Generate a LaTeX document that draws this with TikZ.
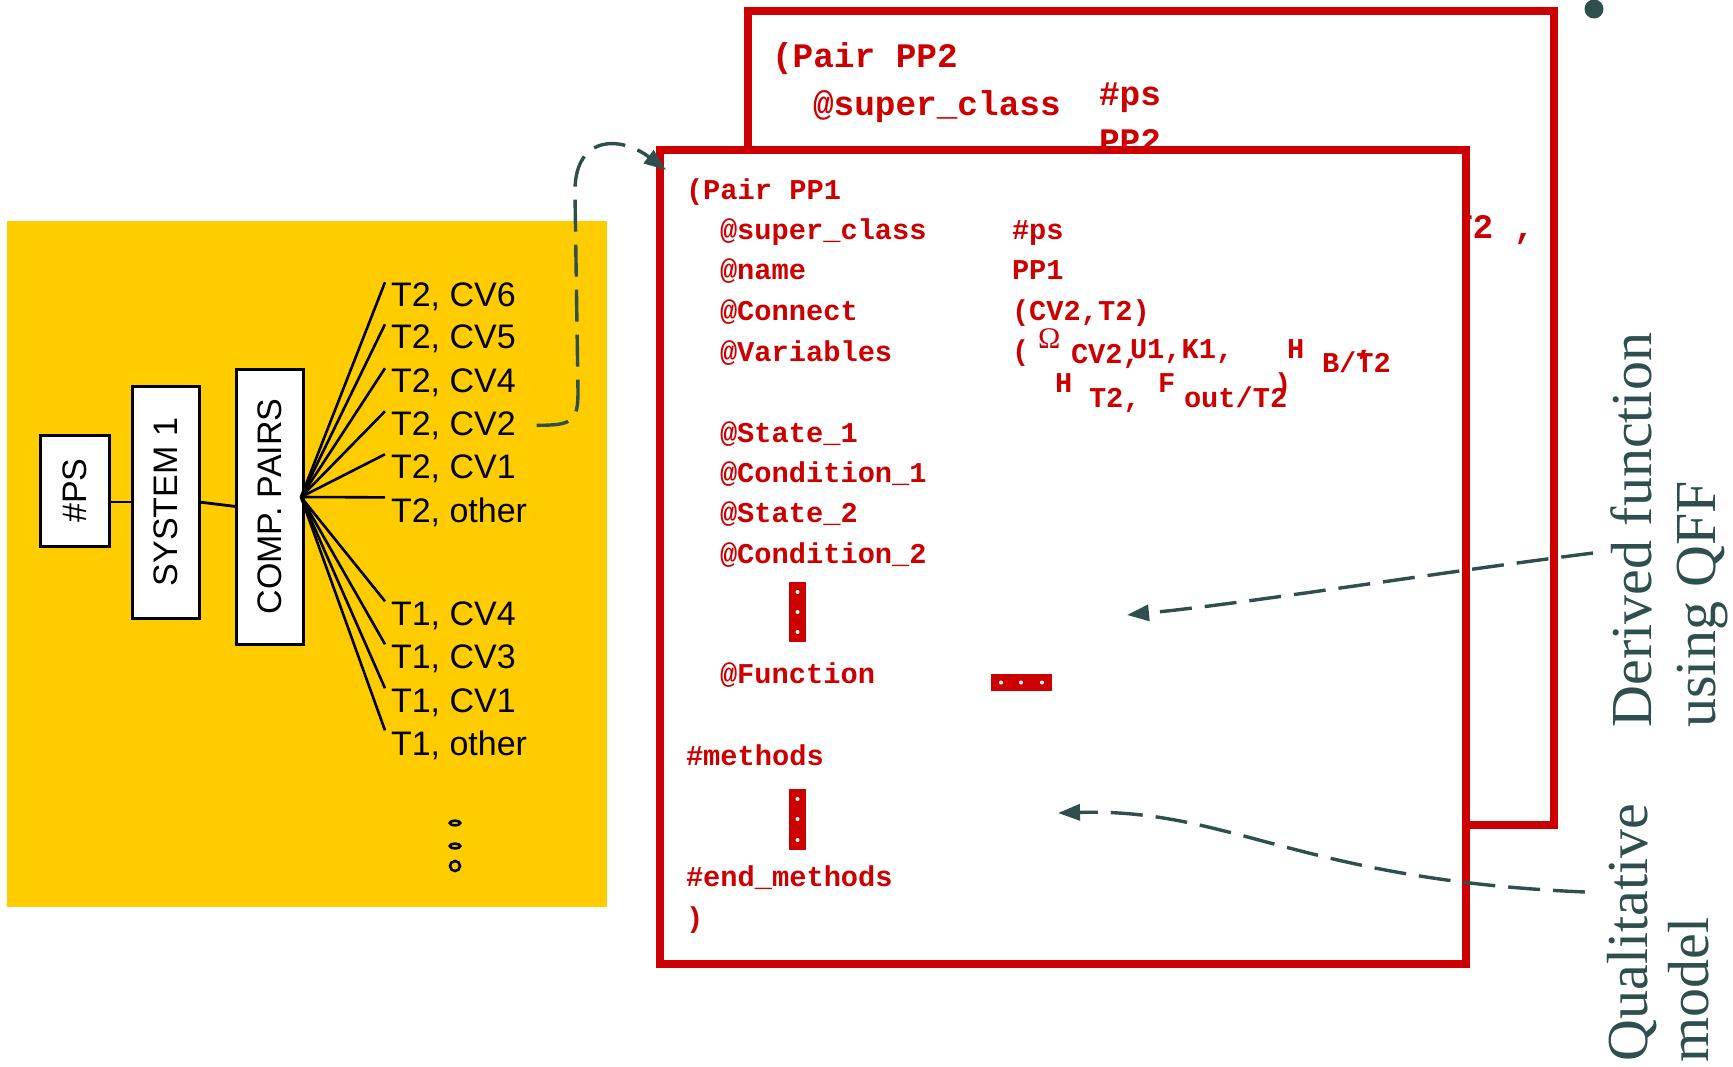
\documentclass[tikz,border=0pt]{standalone}
\usepackage{fontspec}
\setmainfont{Liberation Serif}
\newfontfamily\labelfont{Liberation Sans}
\newfontfamily\codefont{Liberation Mono}
\usetikzlibrary{arrows.meta}
\definecolor{codered}{HTML}{CC0000}
\definecolor{slate}{HTML}{2F4F4F}
\definecolor{gold}{HTML}{FFCC00}
\begin{document}
\begin{tikzpicture}[x=0.5pt,y=-0.5pt,
  panelbox/.style={fill=gold, draw=none, inner sep=0pt, outer sep=0pt, minimum width=300pt, minimum height=343pt},
  treebox/.style={draw=black, line width=1.5pt, fill=white, inner sep=0pt, outer sep=0pt, rotate=90,
    font=\labelfont\fontsize{17}{20}\selectfont},
  leaflabel/.style={anchor=base west, inner xsep=3pt, inner ysep=0pt, outer sep=0pt,
    font=\labelfont\fontsize{17}{20}\selectfont},
  fanline/.style={line width=1.3pt},
  linkline/.style={line width=1.4pt},
  codetxt/.style={anchor=base west, inner sep=0pt, outer sep=0pt, text=codered,
    font=\codefont\bfseries\fontsize{14.35}{16}\selectfont},
  bigcodetxt/.style={codetxt, font=\codefont\bfseries\fontsize{17.2}{20}\selectfont},
  sheetbox/.style={draw=codered, line width=4pt, fill=white, inner sep=0pt, outer sep=0pt,
    minimum width=403pt, minimum height=407pt},
  flowarrow/.style={draw=slate, line width=1.7pt, dash pattern=on 16pt off 6.5pt,
    -{Triangle[length=11pt,width=8pt]}},
  sidenote/.style={rotate=90, anchor=base west, inner sep=0pt, text=slate,
    font=\fontsize{29}{34}\selectfont},
  dotbar/.style={fill=codered, draw=none}
]
\useasboundingbox (0,0) rectangle (1733,1066);

% ---------- yellow panel with tree ----------
\node[panelbox] (panel) at (307,564) {};

\node[treebox, minimum width=55.5pt, minimum height=34.5pt] (ps) at (74.5,490.5) {\#PS};
\node[treebox, minimum width=116pt, minimum height=33.5pt] (sys) at (165.5,502) {SYSTEM 1};
\node[treebox, minimum width=137.5pt, minimum height=33.5pt] (comp) at (269.5,506.5) {COMP. PAIRS};

\draw[linkline] (ps.south |- sys.north) -- (sys.north);
\draw[linkline] (sys.south) -- (comp.north);

\node[leaflabel] (a1) at (385,306) {T2, CV6};
\node[leaflabel] (a2) at (385,348) {T2, CV5};
\node[leaflabel] (a3) at (385,392) {T2, CV4};
\node[leaflabel] (a4) at (385,435) {T2, CV2};
\node[leaflabel] (a5) at (385,478) {T2, CV1};
\node[leaflabel] (a6) at (385,522) {T2, other};
\node[leaflabel] (b1) at (385,625) {T1, CV4};
\node[leaflabel] (b2) at (385,668) {T1, CV3};
\node[leaflabel] (b3) at (385,712) {T1, CV1};
\node[leaflabel] (b4) at (385,755) {T1, other};

\coordinate (fan) at (301,497);
\foreach \n in {a1,a2,a3,a4,a5,a6,b1,b2,b3,b4}
  \draw[fanline] (fan) -- (\n.north west);

\draw[line width=1.3pt] (455,823) ellipse [x radius=2.6pt, y radius=1.2pt];
\draw[line width=1.3pt] (455,846) ellipse [x radius=2.6pt, y radius=1.2pt];
\draw[line width=1.3pt] (455,866) circle [radius=2.5pt];

% ---------- back sheet PP2 ----------
\node[sheetbox] (pp2) at (1150.5,418) {};
\node[bigcodetxt] (p2l1) at (772,67) {(Pair PP2};
\node[bigcodetxt] (p2l2) at (813,115) {@super\_class};
\node[bigcodetxt] (p2v2) at (1099,105) {\#ps};
\node[bigcodetxt] (p2l3) at (813,172) {@name};
\node[bigcodetxt] (p2v3) at (1099,152) {PP2};
\node[bigcodetxt] (p2v5) at (1452,238) {T2 ,};

% ---------- front sheet PP1 ----------
\node[sheetbox] (pp1) at (1063,557) {};
\node[codetxt] (c1) at (686,199) {(Pair PP1};
\node[codetxt] (c2) at (720,239) {@super\_class};
\node[codetxt] (v2) at (1012,239) {\#ps};
\node[codetxt] (c3) at (720,279) {@name};
\node[codetxt] (v3) at (1012,279) {PP1};
\node[codetxt] (c4) at (720,320) {@Connect};
\node[codetxt] (v4) at (1012,320) {(CV2,T2)};
\node[codetxt] (c5) at (720,361) {@Variables};
\node[codetxt] (v5a) at (1012,360) {(};
\node[codetxt, font=\fontsize{15}{18}\selectfont] (v5b) at (1038,348) {Ω};
\node[codetxt] (v5c) at (1071,363) {CV2,};
\node[codetxt] (v5d) at (1130,358) {U1,K1,};
\node[codetxt] (v5e) at (1287,358) {H};
\node[codetxt] (v5f) at (1322,372) {B/T2};
\node[codetxt] (v5g) at (1356,354) {,};
\node[codetxt] (v6a) at (1055,392) {H};
\node[codetxt] (v6b) at (1089,407) {T2,};
\node[codetxt] (v6c) at (1158,392) {F};
\node[codetxt] (v6d) at (1184,407) {out/T2};
\node[codetxt] (v6e) at (1274,393) {)};
\node[codetxt] (c6) at (720,442) {@State\_1};
\node[codetxt] (c7) at (720,482) {@Condition\_1};
\node[codetxt] (c8) at (720,522) {@State\_2};
\node[codetxt] (c9) at (720,563) {@Condition\_2};
\node[codetxt] (c10) at (720,683) {@Function};
\node[codetxt] (c11) at (686,765) {\#methods};
\node[codetxt] (c12) at (686,886) {\#end\_methods};
\node[codetxt] (c13) at (686,927) {)};

% red ellipsis bars
\fill[codered] (789,582) rectangle (806,642);
\foreach \yy in {592,612,632} \fill[white] (797.5,\yy) circle [radius=1pt];
\fill[codered] (789,789) rectangle (806,850);
\foreach \yy in {799,819,840} \fill[white] (797.5,\yy) circle [radius=1pt];
\fill[codered] (991,674) rectangle (1052,691);
\foreach \xx in {1001,1021,1042} \fill[white] (\xx,682.5) circle [radius=1pt];

% ---------- side notes ----------
\node[sidenote] (df) at (1651,728) {Derived function};
\node[sidenote] (qff) at (1715,728) {using QFF};
\node[sidenote] (qual) at (1647,1062) {Qualitative};
\node[sidenote] (mdl) at (1708,1063) {model};
\fill[slate] (1594,9) circle [radius=4.75pt];

% ---------- dashed arrows ----------
\draw[flowarrow] ([xshift=7.5pt]a4.east) .. controls +(35,0) and +(0,30) .. (578,392)
  -- (575,195) .. controls (573,135) and (620,135) .. ([xshift=3pt,yshift=-10pt]pp1.north west);

\coordinate (qffstart) at (1593,553);
\coordinate (fnslot) at (1127,615);
\draw[flowarrow] (qffstart) .. controls (1420,575) and (1250,603) .. (fnslot);

\coordinate (qmstart) at (1585,892);
\coordinate (methslot) at (1058,813);
\draw[flowarrow] (qmstart) .. controls (1300,880) and (1230,808) .. (methslot);
\end{tikzpicture}
\end{document}
